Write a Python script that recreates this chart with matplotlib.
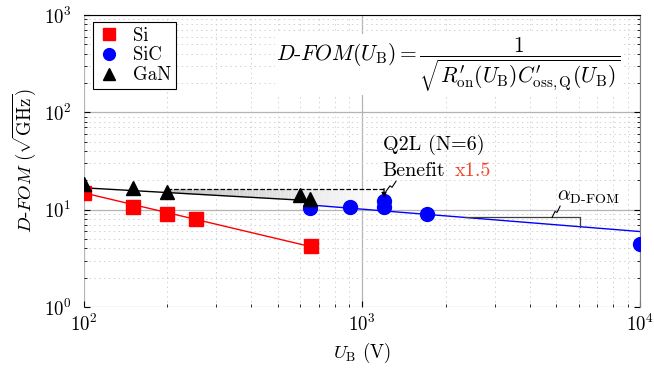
#
# Imports
#
import numpy as np
import matplotlib
matplotlib.use("Agg")
import matplotlib.pyplot as plt

plt.rcParams['font.family'] = 'serif'
plt.rcParams['font.serif'] = ['cmr10', 'DejaVu Serif']
plt.rcParams['mathtext.fontset'] = 'cm'
plt.rcParams['axes.formatter.use_mathtext'] = True
plt.rcParams['axes.unicode_minus'] = False

#
# Data
#
si_ub = [100, 150, 200, 253, 656]
si_dfom = [14.9, 10.7, 9.1, 8.1, 4.2]
si_fit_ub = [100, 650]
si_fit_dfom = [14.9, 4.2]

sic_ub = [650, 906, 1200, 1200, 1713, 10000]
sic_dfom = [10.5, 10.7, 12.4, 10.7, 9.1, 4.5]
sic_fit_ub = [650, 10000]
sic_fit_dfom = [11.2, 5.97]

gan_ub = [100, 150, 200, 598, 650]
gan_dfom = [18.2, 16.6, 15.3, 14.2, 13.0]
gan_fit_ub = [100, 650]
gan_fit_dfom = [16.8, 12.4]

# Q2L benefit (N=6)
q2l_ub = [200, 1200]
q2l_level = 16.5
q2l_target = 13.3

# slope marker on the SiC fit
slope_ub = [2350, 6083]


def loginterp(x, xs, ys):
    return 10 ** np.interp(np.log10(x), np.log10(xs), np.log10(ys))


#
# Plot
#
FS = 13.5     # ticks, labels, legend
FS_TXT = 14.5 # annotations
FS_EQ = 15.5  # formula

fig = plt.figure(figsize=(6.54, 3.75), dpi=100)
ax = fig.add_axes([0.128, 0.181, 0.851, 0.779])
ax.set_xscale('log')
ax.set_yscale('log')
ax.set_xlim(100, 10000)
ax.set_ylim(1, 1000)

# grid
ax.grid(True, which='major', color='#b4b4b4', linewidth=0.9, linestyle='-', zorder=0)
ax.grid(True, which='minor', color='#d2d2d2', linewidth=0.7, linestyle=(0, (1.5, 3.5)), zorder=0)
ax.set_axisbelow(True)

# gradient shading between Q2L level and the GaN / SiC fits
edges = np.logspace(np.log10(q2l_ub[0]), np.log10(q2l_ub[1]), 80)
for i in range(len(edges) - 1):
    xs = np.array([edges[i], edges[i + 1]])
    low = np.where(xs <= gan_fit_ub[1],
                   loginterp(xs, gan_fit_ub, gan_fit_dfom),
                   loginterp(xs, sic_fit_ub, sic_fit_dfom))
    g = 0.76 + 0.24 * i / (len(edges) - 2)
    ax.fill_between(xs, low, q2l_level, color=(g, g, g), linewidth=0, zorder=1)

# fits
ax.plot(si_fit_ub, si_fit_dfom, color='red', linewidth=1.0, zorder=2)
ax.plot(sic_fit_ub, sic_fit_dfom, color='blue', linewidth=1.0, zorder=2)
ax.plot(gan_fit_ub, gan_fit_dfom, color='black', linewidth=1.0, zorder=2)

# Q2L dashed line and arrow
ax.plot(q2l_ub, [q2l_level, q2l_level], color='black', linestyle='--', linewidth=0.9, zorder=3)
ax.annotate('', xy=(q2l_ub[1], q2l_target), xytext=(q2l_ub[1], q2l_level),
            arrowprops=dict(arrowstyle='-|>', color='black', linestyle='--', linewidth=0.9,
                            mutation_scale=7, shrinkA=0, shrinkB=0), zorder=5)

# markers
ax.plot(si_ub, si_dfom, 's', color='red', markersize=10, linestyle='none', label='Si', zorder=4)
ax.plot(sic_ub, sic_dfom, 'o', color='blue', markersize=10, linestyle='none', label='SiC', zorder=4)
ax.plot(gan_ub, gan_dfom, '^', color='black', markersize=10, linestyle='none', label='GaN', zorder=4)

# slope triangle
s_y0 = loginterp(slope_ub[0], sic_fit_ub, sic_fit_dfom)
s_y1 = loginterp(slope_ub[1], sic_fit_ub, sic_fit_dfom)
ax.plot([slope_ub[0], slope_ub[1], slope_ub[1]], [s_y0, s_y0, s_y1],
        color='#404040', linewidth=0.9, zorder=3)

# zigzag pointers
ax.plot([1219, 1261, 1282, 1325], [15.4, 17.6, 17.0, 19.6], color='black', linewidth=0.8, zorder=5)
ax.plot([4819, 4941, 5024, 5152], [s_y0, 9.6, 9.4, 10.9], color='black', linewidth=0.8, zorder=5)

# texts
ax.text(1190, 46, 'Q2L (N=6)', fontsize=FS_TXT, va='center', ha='left')
ax.text(1180, 25, 'Benefit', fontsize=FS_TXT, va='center', ha='left')
ax.text(2163, 25, 'x1.5', fontsize=FS_TXT, va='center', ha='left', color='#f0462a')
ax.text(5024, 12.3, r'$\alpha_{\mathrm{D\text{-}FOM}}$', fontsize=FS_TXT, va='baseline', ha='left')

ax.text(0.655, 0.83,
        r"$D$-$FOM(U_\mathrm{B}) = \dfrac{1}{\sqrt{R^{\prime}_\mathrm{on}(U_\mathrm{B})C^{\prime}_\mathrm{oss,Q}(U_\mathrm{B})}}$",
        transform=ax.transAxes, fontsize=FS_EQ, ha='center', va='center',
        bbox=dict(facecolor='white', edgecolor='none', pad=1), zorder=6)

# legend
leg = ax.legend(loc='upper left', bbox_to_anchor=(0.016, 0.976), borderaxespad=0,
                fancybox=False, edgecolor='black', framealpha=1, fontsize=FS,
                markerscale=0.85, handlelength=1.2, handletextpad=0.7,
                labelspacing=0.1, borderpad=0.25)
leg.get_frame().set_linewidth(0.8)
leg.set_zorder(7)

# axes styling
ax.spines['left'].set_visible(False)
ax.spines['bottom'].set_visible(False)
ax.spines['top'].set_color('black')
ax.spines['right'].set_color('#808080')
ax.tick_params(which='both', direction='in', top=False, right=True, labelsize=FS)
ax.tick_params(which='major', length=4)
ax.tick_params(which='minor', length=2.5)
ax.tick_params(axis='y', which='major', pad=9)
ax.tick_params(axis='x', which='major', pad=5)
ax.set_yticks([1, 10, 100, 1000])
ax.set_xticks([100, 1000, 10000])

ax.set_xlabel(r'$U_\mathrm{B}$ (V)', fontsize=FS, labelpad=4)
ax.set_ylabel(r'$D$-$FOM$ ($\sqrt{\mathrm{GHz}}$)', fontsize=FS, labelpad=4)

fig.savefig('out.png', dpi=100)
